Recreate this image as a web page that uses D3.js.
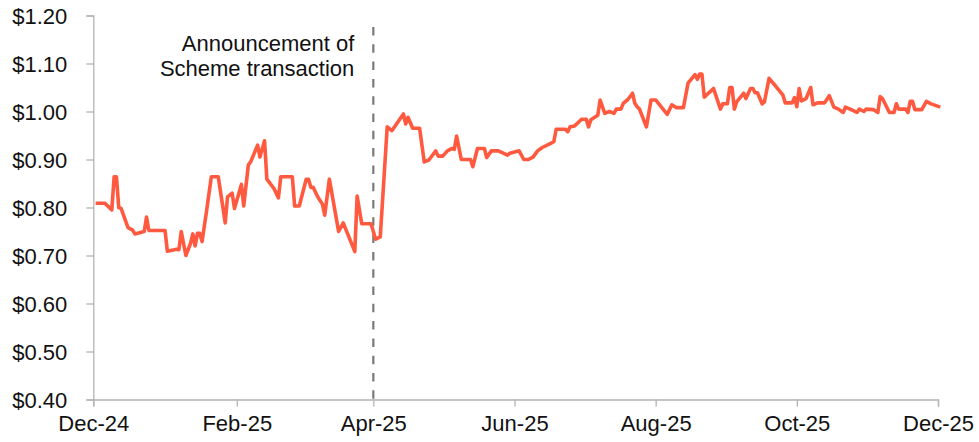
<!DOCTYPE html>
<html>
<head>
<meta charset="utf-8">
<script src="https://cdn.jsdelivr.net/npm/d3@7"></script>
<style>
  html, body { margin: 0; padding: 0; background: #fff; }
  svg { display: block; font-family: "Liberation Sans", Arial, sans-serif; }
</style>
</head>
<body>
<svg id="chart" width="979" height="442"></svg>
<script>
// ---- data ----
const dates = [
  "2024-12-02","2024-12-06","2024-12-09","2024-12-10","2024-12-11","2024-12-12","2024-12-13","2024-12-16","2024-12-18","2024-12-19",
  "2024-12-23","2024-12-24","2024-12-25","2025-01-01","2025-01-02","2025-01-06","2025-01-07","2025-01-08","2025-01-10","2025-01-12",
  "2025-01-13","2025-01-14","2025-01-15","2025-01-16","2025-01-17","2025-01-19","2025-01-21","2025-01-24","2025-01-27","2025-01-28",
  "2025-01-30","2025-01-31","2025-02-03","2025-02-04","2025-02-06","2025-02-07","2025-02-10","2025-02-11","2025-02-13","2025-02-14",
  "2025-02-17","2025-02-19","2025-02-20","2025-02-25","2025-02-26","2025-02-28","2025-03-03","2025-03-04","2025-03-05","2025-03-06",
  "2025-03-08","2025-03-10","2025-03-11","2025-03-13","2025-03-17","2025-03-19","2025-03-21","2025-03-24","2025-03-25","2025-03-27",
  "2025-03-31","2025-04-02","2025-04-04","2025-04-07","2025-04-09","2025-04-14","2025-04-15","2025-04-16","2025-04-18","2025-04-21",
  "2025-04-23","2025-04-25","2025-04-28","2025-04-29","2025-05-01","2025-05-03","2025-05-05","2025-05-06","2025-05-07","2025-05-09",
  "2025-05-13","2025-05-14","2025-05-16","2025-05-19","2025-05-20","2025-05-22","2025-05-25","2025-05-29","2025-05-30","2025-06-03",
  "2025-06-05","2025-06-07","2025-06-09","2025-06-11","2025-06-13","2025-06-16","2025-06-18","2025-06-19","2025-06-23","2025-06-24",
  "2025-06-25","2025-06-27","2025-06-30","2025-07-02","2025-07-03","2025-07-04","2025-07-07","2025-07-08","2025-07-10","2025-07-12",
  "2025-07-14","2025-07-15","2025-07-17","2025-07-18","2025-07-20","2025-07-22","2025-07-23","2025-07-24","2025-07-25","2025-07-28",
  "2025-07-30","2025-08-01","2025-08-06","2025-08-08","2025-08-10","2025-08-13","2025-08-15","2025-08-18","2025-08-19","2025-08-20",
  "2025-08-21","2025-08-22","2025-08-26","2025-08-29","2025-08-30","2025-09-01","2025-09-02","2025-09-03","2025-09-04","2025-09-05",
  "2025-09-08","2025-09-09","2025-09-11","2025-09-12","2025-09-13","2025-09-14","2025-09-16","2025-09-17","2025-09-19","2025-09-22",
  "2025-09-25","2025-09-26","2025-09-29","2025-09-30","2025-10-01","2025-10-02","2025-10-03","2025-10-05","2025-10-07","2025-10-08",
  "2025-10-10","2025-10-13","2025-10-15","2025-10-17","2025-10-19","2025-10-21","2025-10-22","2025-10-24","2025-10-27","2025-10-28",
  "2025-10-30","2025-10-31","2025-11-03","2025-11-05","2025-11-06","2025-11-07","2025-11-10","2025-11-12","2025-11-13","2025-11-14",
  "2025-11-17","2025-11-18","2025-11-19","2025-11-20","2025-11-21","2025-11-24","2025-11-26","2025-11-28","2025-12-02"
];
const prices = [
  0.809,0.809,0.795,0.864,0.864,0.800,0.798,0.758,0.753,0.745,
  0.750,0.780,0.752,0.752,0.709,0.713,0.712,0.750,0.700,0.725,
  0.745,0.720,0.746,0.746,0.729,0.795,0.864,0.864,0.768,0.822,
  0.830,0.798,0.848,0.803,0.889,0.895,0.930,0.905,0.939,0.859,
  0.840,0.820,0.864,0.864,0.803,0.803,0.859,0.859,0.842,0.842,
  0.822,0.807,0.784,0.859,0.750,0.768,0.744,0.708,0.824,0.766,
  0.766,0.734,0.739,0.968,0.960,0.995,0.974,0.988,0.965,0.965,
  0.895,0.899,0.918,0.907,0.907,0.918,0.923,0.921,0.949,0.900,
  0.900,0.885,0.923,0.923,0.904,0.918,0.918,0.909,0.913,0.918,
  0.900,0.900,0.905,0.918,0.925,0.932,0.937,0.963,0.963,0.958,
  0.968,0.970,0.984,0.984,0.968,0.983,0.992,1.024,0.996,1.000,
  0.996,1.005,1.005,1.017,1.025,1.038,1.017,1.010,1.005,0.968,
  1.024,1.024,0.994,1.014,1.008,1.008,1.059,1.077,1.067,1.078,
  1.078,1.030,1.048,1.005,1.016,1.016,1.050,1.050,1.005,1.020,
  1.038,1.027,1.048,1.048,1.039,1.039,1.016,1.020,1.069,1.052,
  1.034,1.018,1.018,1.029,1.010,1.048,1.022,1.027,1.050,1.014,
  1.018,1.018,1.033,1.009,1.005,0.998,1.009,1.005,0.998,1.005,
  1.000,1.005,1.004,0.998,1.031,1.027,0.998,0.998,1.016,1.005,
  1.005,0.998,1.021,1.021,1.004,1.004,1.021,1.016,1.009
];
const xTickLabels = ["Dec-24","Feb-25","Apr-25","Jun-25","Aug-25","Oct-25","Dec-25"];
const xTickDates = ["2024-12-01","2025-02-01","2025-04-01","2025-06-01","2025-08-01","2025-10-01","2025-12-01"];
const yTickValues = [0.40,0.50,0.60,0.70,0.80,0.90,1.00,1.10,1.20];
const announcementDate = "2025-04-01";
const annotationLines = ["Announcement of","Scheme transaction"];

// ---- chart ----
(function () {
const parse = d3.timeParse("%Y-%m-%d");
const data = dates.map((d, i) => ({ date: parse(d), value: prices[i] }));

const plotLeft = 93.3, plotRight = 938, plotTop = 15.5, plotBottom = 399.5;
const svg = d3.select("#chart");

const x = d3.scaleTime()
  .domain([parse("2024-12-01"), parse("2025-12-01")])
  .range([plotLeft, plotRight]);
const y = d3.scaleLinear().domain([0.40, 1.20]).range([plotBottom, plotTop]);

const axisColor = "#b3b3b3";
const fontSize = 22;

// y axis
const yAxis = svg.append("g")
  .attr("transform", `translate(${plotLeft},0)`)
  .call(d3.axisLeft(y).tickValues(yTickValues).tickSize(7).tickPadding(19)
    .tickFormat(d => "$" + d3.format(".2f")(d)));
yAxis.select(".domain").attr("stroke", axisColor).attr("stroke-width", 1.3);
yAxis.selectAll(".tick line").attr("stroke", axisColor).attr("stroke-width", 1.3);
yAxis.selectAll(".tick text").attr("fill", "#111").attr("font-size", fontSize)
  .attr("font-family", "'Liberation Sans', Arial, sans-serif").attr("dy", "0.36em");

// x axis
const xAxis = svg.append("g")
  .attr("transform", `translate(0,${plotBottom})`)
  .call(d3.axisBottom(x).tickValues(xTickDates.map(parse)).tickSize(7).tickPadding(9)
    .tickFormat((d, i) => xTickLabels[i]));
xAxis.select(".domain").attr("stroke", axisColor).attr("stroke-width", 1.3);
xAxis.selectAll(".tick line").attr("stroke", axisColor).attr("stroke-width", 1.3);
xAxis.selectAll(".tick text").attr("fill", "#111").attr("font-size", fontSize)
  .attr("font-family", "'Liberation Sans', Arial, sans-serif");

// announcement dashed line
const ax = x(parse(announcementDate));
svg.append("line")
  .attr("x1", ax).attr("x2", ax)
  .attr("y1", 27).attr("y2", plotBottom)
  .attr("stroke", "#7a7a7a").attr("stroke-width", 2.2)
  .attr("stroke-dasharray", "8.5,8.8");

// annotation
const ann = svg.append("text")
  .attr("text-anchor", "end")
  .attr("font-size", fontSize)
  .attr("fill", "#111");
annotationLines.forEach((t, i) => {
  ann.append("tspan").attr("x", ax - 19).attr("y", 51 + i * 25).text(t);
});

// price line
svg.append("path")
  .datum(data)
  .attr("fill", "none")
  .attr("stroke", "#ff5a40")
  .attr("stroke-width", 3.6)
  .attr("stroke-linejoin", "round")
  .attr("d", d3.line().x(d => x(d.date)).y(d => y(d.value)));
})();
</script>
</body>
</html>
